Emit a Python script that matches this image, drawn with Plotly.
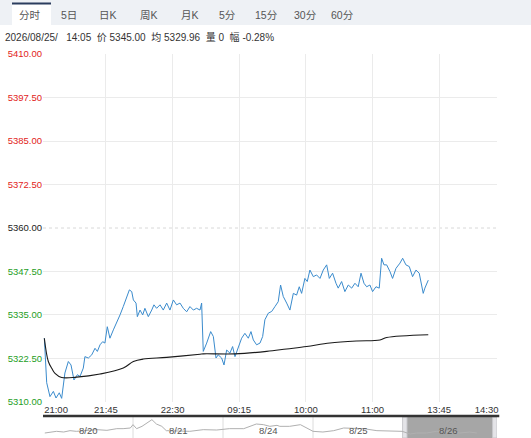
import plotly.graph_objects as go

W, H = 531, 438
ML, MR, MT, MB = 43, 34, 54, 0
PW, PH = W - ML - MR, H - MT - MB

BASE = 5360.0

# intraday price (trading-minute index since 21:00, price)
PRICE_T = [3.4, 5.0, 7.2, 9.5, 11.3, 13.5, 15.1, 17.3, 19.6, 21.4, 23.4, 25.7, 27.5, 29.7, 30.8,
           33.1, 35.4, 37.6, 39.2, 41.0, 42.8, 44.3, 45.9, 47.7, 50.0, 52.2, 54.5, 56.7, 58.5,
           60.8, 62.4, 63.5, 65.3, 66.2, 68.0, 69.8, 71.3, 73.6, 75.9, 77.4, 79.2, 81.5, 83.7,
           86.0, 88.2, 90.5, 92.7, 95.0, 97.2, 99.5, 101.7, 104.0, 106.2, 108.5, 109.6, 110.7,
           113.0, 115.7, 117.5, 119.3, 120.8, 123.1, 124.7, 126.5, 128.7, 130.5, 132.1, 134.3,
           136.6, 138.8, 141.1, 142.9, 144.5, 146.7, 149.0, 150.8, 152.3, 154.6, 156.9, 159.1,
           161.3, 162.9, 164.7, 167.0, 169.2, 171.5, 173.7, 175.5, 177.1, 179.3, 180.9, 182.7,
           185.0, 187.2, 189.5, 191.7, 194.0, 195.8, 198.0, 200.3, 201.8, 204.1, 206.3, 208.6,
           210.9, 213.1, 215.3, 217.2, 219.2, 221.0, 223.2, 225.0, 227.3, 229.5, 231.1, 232.7,
           234.5, 236.7, 238.5, 240.8, 243.5, 245.3, 247.5, 249.8, 252.0, 254.3, 256.5, 259.2,
           260.3, 262.6]
PRICE = [5328.3, 5315.5, 5311.5, 5313.0, 5311.1, 5312.6, 5311.0, 5318.3, 5321.6, 5320.6, 5316.3,
         5317.8, 5317.3, 5319.7, 5323.0, 5322.6, 5323.5, 5325.4, 5324.5, 5326.4, 5327.3, 5326.9,
         5331.6, 5328.3, 5330.7, 5332.6, 5335.0, 5337.4, 5339.8, 5342.2, 5341.7, 5339.3, 5338.4,
         5334.5, 5336.4, 5335.0, 5336.9, 5334.5, 5336.4, 5337.9, 5336.9, 5337.9, 5336.4, 5338.4,
         5336.4, 5339.3, 5337.9, 5338.4, 5336.9, 5335.9, 5337.4, 5336.4, 5336.9, 5336.4, 5338.4,
         5324.5, 5326.9, 5330.2, 5328.8, 5322.6, 5323.5, 5322.6, 5320.6, 5324.9, 5324.0, 5325.9,
         5323.0, 5325.4, 5328.3, 5329.7, 5328.3, 5330.2, 5327.8, 5326.4, 5326.9, 5328.8, 5333.6,
         5335.5, 5336.0, 5337.4, 5338.8, 5343.6, 5340.3, 5338.4, 5336.4, 5341.2, 5340.7, 5343.1,
         5341.2, 5345.5, 5344.6, 5347.9, 5346.0, 5346.5, 5345.5, 5347.9, 5349.4, 5345.5, 5347.0,
         5344.1, 5342.7, 5344.6, 5341.7, 5343.6, 5342.7, 5344.1, 5343.1, 5347.0, 5344.1, 5343.1,
         5343.6, 5341.7, 5343.1, 5342.7, 5351.3, 5349.4, 5349.4, 5347.5, 5345.5, 5348.4, 5349.9,
         5351.3, 5349.4, 5348.9, 5346.0, 5347.9, 5347.0, 5341.2, 5342.7, 5345.0]

# average price line
AVG_T = [3.4, 6.1, 8.6, 10.6, 15.1, 25.2, 41.0, 56.7, 63.5, 70.2, 86.0, 108.5, 110.7, 132.1,
         153.5, 167.0, 180.5, 196.2, 214.2, 230.0, 234.5, 262.6]
AVG = [5328.3, 5321.6, 5319.5, 5318.2, 5317.0, 5317.1, 5318.0, 5319.7, 5321.6, 5322.3, 5322.8,
       5323.7, 5323.8, 5323.8, 5324.5, 5325.2, 5325.9, 5326.9, 5327.5, 5327.8, 5328.5, 5329.3]

Y_TICKS = [5310.0, 5322.5, 5335.0, 5347.5, 5360.0, 5372.5, 5385.0, 5397.5, 5410.0]
PCT_LABELS = ["-0.93%", "0.70%", "0.47%", "0.23%", "0.00%", "0.23%", "0.47%", "0.70%", "0.93%"]

X_TICK_T = [11.3, 45, 90, 135, 180, 225, 270, 302]
X_TICK_LABELS = ["21:00", "21:45", "22:30", "09:15", "10:00", "11:00", "13:45", "14:30"]
GRID_T = [45, 90, 135, 180, 225, 270]

# navigator (5-day overview): day index, close
NAV_T = [0.02, 0.15, 0.23, 0.30, 0.37, 0.49, 0.60, 0.71, 0.82, 0.89, 0.97, 1.00, 1.04, 1.10,
         1.15, 1.21, 1.26, 1.32, 1.37, 1.49, 1.63, 1.78, 1.93, 2.07, 2.23, 2.37, 2.45, 2.52,
         2.60, 2.63, 2.74, 2.86, 2.93, 3.00, 3.11, 3.23, 3.34, 3.45, 3.56, 3.71, 3.86, 3.99,
         4.08, 4.15, 4.26, 4.37, 4.52, 4.63, 4.74, 4.82]
NAV_V = [5312.5, 5325.0, 5320.0, 5330.0, 5325.0, 5330.0, 5337.5, 5332.5, 5345.0, 5345.0, 5350.0,
         5375.0, 5345.0, 5362.5, 5387.5, 5412.5, 5380.0, 5362.5, 5330.0, 5330.0, 5325.0, 5337.5,
         5335.0, 5345.0, 5345.0, 5380.0, 5375.0, 5362.5, 5370.0, 5362.5, 5362.5, 5375.0, 5350.0,
         5325.0, 5320.0, 5330.0, 5350.0, 5345.0, 5345.0, 5330.0, 5330.0, 5325.0, 5305.0, 5312.5,
         5312.5, 5325.0, 5320.0, 5312.5, 5320.0, 5312.5]
NAV_DAYS = ["8/20", "8/21", "8/24", "8/25", "8/26"]
NAV_SELECTED = 4

TABS = ["分时", "5日", "日K", "周K", "月K", "5分", "15分", "30分", "60分"]
HEADER = "2026/08/25/   14:05  价 5345.00  均 5329.96  量 0  幅 -0.28%"

RED, GREEN, BLACK = "#e2231a", "#1e9e1e", "#222222"
GRID = "#ebebeb"
FONT = "Liberation Sans, Noto Sans CJK SC, sans-serif"


def px_x(p):
    return (p - ML) / PW


def px_y(p):
    return (H - MB - p) / PH


def colored(txt, v):
    c = RED if v > BASE else (GREEN if v < BASE else BLACK)
    return f"<span style='color:{c}'>{txt}</span>"


main_dom = [px_y(402), 1.0]
nav_top = px_y(417)

fig = go.Figure()
fig.add_trace(go.Scatter(x=PRICE_T, y=PRICE, mode="lines",
                         line=dict(color="#3a8bcd", width=1), hoverinfo="skip",
                         xaxis="x", yaxis="y"))
fig.add_trace(go.Scatter(x=AVG_T, y=AVG, mode="lines", line_shape="spline",
                         line=dict(color="#1a1a1a", width=1.1), hoverinfo="skip",
                         xaxis="x", yaxis="y"))
fig.add_trace(go.Scatter(x=NAV_T, y=NAV_V, mode="lines",
                         line=dict(color="#b0b0b0", width=1), hoverinfo="skip",
                         xaxis="x2", yaxis="y3"))

y_range = [5309.95, 5410.05]
fig.update_layout(
    width=W, height=H,
    margin=dict(l=ML, r=MR, t=MT, b=MB, autoexpand=False),
    paper_bgcolor="white", plot_bgcolor="white",
    showlegend=False,
    font=dict(family=FONT, size=9.5, color="#333"),
    xaxis=dict(domain=[0, 1], anchor="y", range=[2.5, 309], automargin=False,
               tickmode="array", tickvals=X_TICK_T, ticktext=X_TICK_LABELS,
               showgrid=False, zeroline=False, showline=False, ticks="",
               tickfont=dict(size=9.5, color="#333"),
               minor=dict(tickmode="array", tickvals=GRID_T, showgrid=True,
                          gridcolor=GRID, gridwidth=1, ticks="")),
    yaxis=dict(domain=main_dom, anchor="x", range=y_range, automargin=False,
               tickmode="array", tickvals=Y_TICKS,
               ticktext=[colored(f"{v:.2f}", v) for v in Y_TICKS],
               showgrid=False, zeroline=False, showline=False, ticks="",
               tickfont=dict(size=9.5),
               minor=dict(tickmode="array", tickvals=[v for v in Y_TICKS if v != BASE],
                          showgrid=True, gridcolor=GRID, gridwidth=1, ticks="")),
    yaxis2=dict(overlaying="y", side="right", anchor="x", range=y_range, automargin=False,
                tickmode="array", tickvals=Y_TICKS,
                ticktext=[colored(t, v) for t, v in zip(PCT_LABELS, Y_TICKS)],
                showgrid=False, zeroline=False, showline=False, ticks="",
                tickfont=dict(size=9.5)),
    xaxis2=dict(domain=[0, 1], anchor="y3", range=[0, 5.044], visible=False, automargin=False),
    yaxis3=dict(domain=[0, nav_top], anchor="x2", range=[5275, 5432.5], visible=False,
                automargin=False),
)

shapes = []
# base price reference (dotted)
shapes.append(dict(type="line", xref="paper", yref="y", x0=0, x1=1, y0=BASE, y1=BASE,
                   line=dict(color="#d8d8d8", width=1, dash="dot"), layer="below"))
# tab bar background
shapes.append(dict(type="rect", xref="paper", yref="paper", x0=px_x(0), x1=px_x(W),
                   y0=px_y(25), y1=px_y(0), fillcolor="#eef1f5", line=dict(width=0), layer="below"))
shapes.append(dict(type="rect", xref="paper", yref="paper", x0=px_x(12), x1=px_x(51),
                   y0=px_y(25), y1=px_y(3), fillcolor="white", line=dict(width=0), layer="below"))
shapes.append(dict(type="line", xref="paper", yref="paper", x0=px_x(12), x1=px_x(51),
                   y0=px_y(3.5), y1=px_y(3.5), line=dict(color="#2b3d5e", width=2)))
# navigator
shapes.append(dict(type="rect", xref="x2", yref="paper", x0=NAV_SELECTED, x1=NAV_SELECTED + 1,
                   y0=0, y1=nav_top, fillcolor="#a6a6a6", line=dict(width=0), layer="below"))
for x0 in (NAV_SELECTED, NAV_SELECTED + 1):
    shapes.append(dict(type="rect", xref="x2", yref="paper", x0=x0 - 0.005, x1=x0 + 0.044,
                       y0=0, y1=nav_top, fillcolor="#e4e4e8",
                       line=dict(color="#c8c8cc", width=1), layer="below"))
for d in range(1, NAV_SELECTED):
    shapes.append(dict(type="line", xref="x2", yref="paper", x0=d, x1=d, y0=0, y1=nav_top,
                       line=dict(color="#dcdcdc", width=1), layer="below"))
shapes.append(dict(type="line", xref="paper", yref="paper", x0=0, x1=1.005,
                   y0=px_y(416), y1=px_y(416), line=dict(color="#333", width=2.5)))

annotations = []
tab_cx = [29.5, 69, 108, 149, 190, 227, 266, 305, 342]
for name, cx in zip(TABS, tab_cx):
    annotations.append(dict(text=name, xref="paper", yref="paper", x=px_x(cx), y=px_y(15),
                            xanchor="center", yanchor="middle", showarrow=False,
                            font=dict(size=10.5, color="#555", family=FONT)))
annotations.append(dict(text=HEADER, xref="paper", yref="paper", x=px_x(3), y=px_y(37),
                        xanchor="left", yanchor="middle", showarrow=False,
                        font=dict(size=10, color="#333", family=FONT)))
for i, lab in enumerate(NAV_DAYS):
    annotations.append(dict(text=lab, xref="x2", yref="paper", x=i + 0.5, y=px_y(430),
                            xanchor="center", yanchor="middle", showarrow=False,
                            font=dict(size=9.5, color="#555", family=FONT)))

fig.update_layout(shapes=shapes, annotations=annotations)
fig.write_html("out.html", config={"displayModeBar": False},
               post_script="document.body.style.margin='0';document.body.style.overflow='hidden';")
